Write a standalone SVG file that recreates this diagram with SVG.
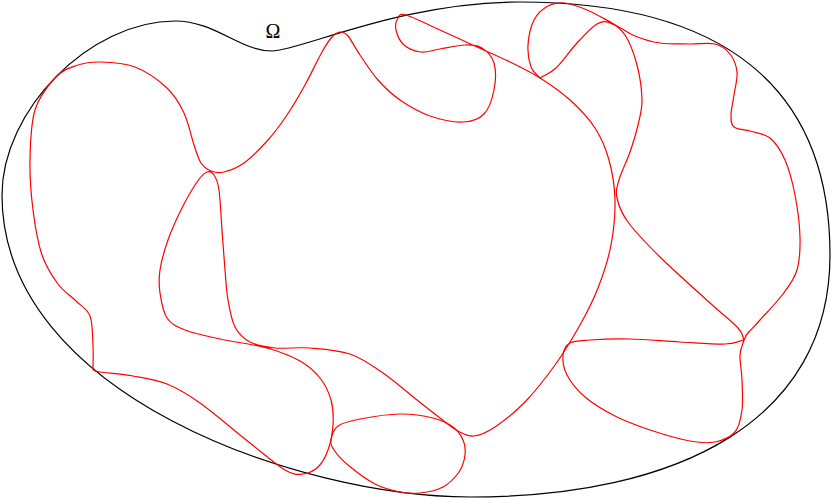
<svg xmlns="http://www.w3.org/2000/svg" width="831" height="498" viewBox="0 0 831 498">
<style>
.dom{fill:none;stroke:#000;stroke-width:1.2}
.crv{fill:none;stroke:#ff0000;stroke-width:1.2;stroke-linejoin:round}
.lbl{font-family:"Liberation Serif","DejaVu Serif",serif;font-size:20px;fill:#000}
</style>
<rect width="831" height="498" fill="#fff"/>
<g id="domain">
<path class="dom" d="M2,195 C2,110 90,21 175,21 C215,21 240,51 272,51 C300,51 400,2 520,2 C722,2 830,86 830,255 C830,420 680,497 470,497 C300,497 2,395 2,195 Z"/>
<text class="lbl" x="273" y="38" text-anchor="middle">Ω</text>
</g>
<g id="curves">
<path id="loopA" class="crv" d="M93,370 C93,361.7 93.5,354 93,345 S92.8,323.3 90,316 S81.3,306.3 76,301 S63.7,291.7 58,284 S46.2,267.3 42,255 S35,225.8 33,210 S29.7,176.7 30,160 S30.8,123.7 35,110 S48.3,85.3 55,78 S67.5,68.7 75,66 S90,61.8 100,62 S123.8,62.7 135,67 S158.8,80.3 167,88 S179.5,103.5 184,113 S191.2,136.7 194,145 S198.2,158.7 201,163 S207.2,169.5 211,171 S218.5,173.3 224,172 S236.7,168.3 244,163 S260.8,148 268,140 S280.8,124.2 287,115 S299.2,95.5 305,85 S317.5,60 322,52 S329,40.3 332,37 S337.3,32.2 340,32 S344.7,32.2 348,36 S355,47.7 360,55 S371.3,72.5 378,80 S391.3,94 400,100 S419.5,112.3 430,116 S454,122.3 463,122 S478.8,119.3 484,114 S492.3,98.5 494,90 S496,70 494,63 S486.8,51 482,48 S472,44.8 465,45 S447.3,47.8 440,49 S427,52.7 421,52 S408.2,48.7 404,45 S397,34.5 396,30 S396.3,20.5 398,18 S399,13 406,15 S428.2,24.7 440,30 S465.3,41.7 477,47 S499.5,56.8 510,62 S530,71.7 540,78 S560.8,91.7 570,100 S588.5,118 595,128 S605.7,148 609,160 S614.7,185.8 615,200 S613.8,230.3 611,245 S603.2,274.7 598,288 S587.2,312.2 580,325 S564.2,352.2 555,365 S535,391.7 525,402 S503.5,421.3 495,427 S480.2,435.3 474,436 S463.7,434 458,431 S446.8,423.2 440,418 S426.5,407.5 417,400 S394.2,380.7 383,373 S362.2,358.2 350,354 S322.5,349 310,348 S285,349 275,348 S256.7,345.5 250,342 S238.7,334 235,327 S229.7,309.5 228,300 S226,281.7 225,270 S223,243.3 222,230 S220.3,199.2 219,190 S216,178 214,175 S209.8,170.8 207,172 S201.3,175.7 197,182 S185.8,200.3 181,210 S171.5,230 168,240 S161.3,261.2 160,270 S158.8,285 160,293 S162.8,311.8 167,318 S176.2,326.5 185,330 S206.3,336 220,339 S253.7,344.3 267,348 S291.2,356 300,361 S314.8,371.5 320,378 S328.8,392.2 331,400 S333.5,416.7 333,425 S330.5,443 328,450 S322.2,463 318,467 S308.5,473.5 303,474 S293.8,475.2 285,470 S264.2,454.2 250,443 S213.8,412.8 200,403 S178.2,388.5 167,384 S144.2,378 133,376 S106.7,373 100,372 S95.3,370.7 93,370"/>
<path id="loopB" class="crv" d="M331,440 C331.7,436 333.2,429.5 338,426 S349.7,421 360,419 S387.8,414.2 400,414 S424.2,415.8 433,418 S448,423.3 453,427 S461,435.3 463,440 S465.7,449.7 465,455 S462.7,466.7 459,472 S449.5,483.5 443,487 S427.2,492.2 420,493 S407.5,493.5 400,492 S383.7,488.5 375,484 S354.8,470.7 348,465 S336.8,454.2 334,450 S330.3,444 331,440 Z"/>
<path id="loopC" class="crv" d="M540,78 C537,74.3 533,72.5 531,67 S527.5,52.8 528,45 S530.7,26.5 534,20 S542.8,8.8 548,6 S558.5,2.3 565,3 S579.2,6.7 587,10 S604,18.7 612,23 S627,32.7 635,36 S650.8,41.7 660,43 S680.8,43.8 690,44 S708.3,42.3 715,44 S726.3,49.3 730,54 S736.3,65.2 737,72 S735,87.8 734,95 S731,109.7 731,115 S730.8,124.3 734,127 S744,129.2 750,131 S764.2,133.2 770,138 S780.8,150.5 785,160 S792.5,182.2 795,195 S799.7,224.5 800,237 S799.8,260.5 797,270 S789.2,285.7 783,294 S765.8,313.5 760,320 S750.7,329.7 748,333 S745.3,337.7 744,340 C742,336 743.7,334.2 738,328 S723,314.8 710,303 S673.7,270.5 660,257 S635.2,231.8 628,222 S618.5,205 617,198 S616.8,187.7 619,180 S626.8,161.2 630,152 S636,133.7 638,125 S642.2,110 642,100 S639.8,75.8 637,65 S629.5,42 625,35 S614.7,24.8 610,23 S602.5,20.7 597,24 S583.8,35.7 577,43 S562.2,62.2 556,68 S545.3,74.7 540,78"/>
<path id="loopD" class="crv" d="M744,340 C737.7,341.3 735.7,343.7 725,344 S695.8,342.8 680,342 S645,339.3 630,339 S600,339.3 590,340 S574.5,340.5 570,343 S563.5,349.7 563,355 S563.3,368 567,375 S577,390.2 585,397 S604.2,410.5 615,416 S637.5,425.8 650,430 S679.2,439 690,441 S707.5,443.5 715,442 S730.5,437.3 735,432 S740.8,418.7 742,410 S742.3,389.2 742,380 S739.7,361.7 740,355 S742.7,345 744,340"/>
</g>
</svg>
